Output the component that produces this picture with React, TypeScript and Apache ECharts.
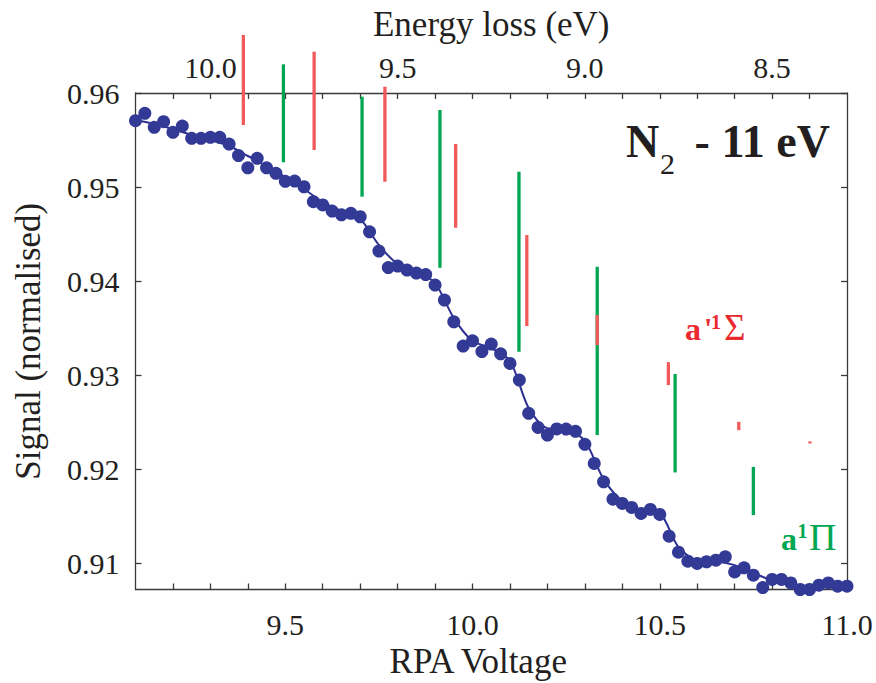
import React, { useEffect, useRef } from "react";
import * as echarts from "echarts";

// RPA voltage of each measured point (V)
const voltage = [
  9.1, 9.125, 9.15, 9.175, 9.2, 9.225, 9.25, 9.275, 9.3, 9.325,
  9.35, 9.375, 9.4, 9.425, 9.45, 9.475, 9.5, 9.525, 9.55, 9.575,
  9.6, 9.625, 9.65, 9.675, 9.7, 9.725, 9.75, 9.775, 9.8, 9.825,
  9.85, 9.875, 9.9, 9.925, 9.95, 9.975, 10.0, 10.025, 10.05, 10.075,
  10.1, 10.125, 10.15, 10.175, 10.2, 10.225, 10.25, 10.275, 10.3, 10.325,
  10.35, 10.375, 10.4, 10.425, 10.45, 10.475, 10.5, 10.525, 10.55, 10.575,
  10.6, 10.625, 10.65, 10.675, 10.7, 10.725, 10.75, 10.775, 10.8, 10.825,
  10.85, 10.875, 10.9, 10.925, 10.95, 10.975, 11.0,
];
// normalised signal of each measured point
const signal = [
  0.95705, 0.95784, 0.95635, 0.95695, 0.95582, 0.95649, 0.95518, 0.95518, 0.95529, 0.95529,
  0.95457, 0.95335, 0.95205, 0.95305, 0.95205, 0.95146, 0.95061, 0.95064, 0.95003, 0.94844,
  0.94809, 0.94745, 0.94705, 0.9472, 0.94684, 0.94524, 0.94319, 0.94144, 0.9416, 0.94117,
  0.94085, 0.94069, 0.93957, 0.93798, 0.93567, 0.93309, 0.93365, 0.9325, 0.9333, 0.93227,
  0.93124, 0.92947, 0.92593, 0.92444, 0.92362, 0.92428, 0.92426, 0.92402, 0.92264, 0.92061,
  0.91865, 0.91681, 0.91635, 0.91593, 0.91529, 0.91571, 0.91518, 0.91287, 0.91117, 0.91021,
  0.90997, 0.91014, 0.91032, 0.91067, 0.90907, 0.9095, 0.90872, 0.90741, 0.90827, 0.90827,
  0.9079, 0.9072, 0.9072, 0.90766, 0.9079, 0.90755, 0.90755,
];
// smoothed fit curve
const fitVoltage = [
  9.1, 9.15, 9.2, 9.25, 9.3, 9.35, 9.4, 9.45, 9.5, 9.55,
  9.6, 9.65, 9.7, 9.75, 9.8, 9.85, 9.9, 9.95, 10.0, 10.05,
  10.1, 10.15, 10.2, 10.25, 10.3, 10.35, 10.4, 10.45, 10.5, 10.55,
  10.6, 10.65, 10.7, 10.75, 10.8, 10.85, 10.9, 10.95, 11.0,
];
const fitSignal = [
  0.95713, 0.9567, 0.95617, 0.95553, 0.955, 0.95436, 0.9533, 0.95223, 0.95106, 0.94979,
  0.9484, 0.94745, 0.9466, 0.94383, 0.94181, 0.94106, 0.93979, 0.93606, 0.93362, 0.93287,
  0.93149, 0.92649, 0.92436, 0.92426, 0.92298, 0.91894, 0.9166, 0.91564, 0.91532, 0.9117,
  0.91032, 0.91021, 0.90979, 0.90894, 0.90819, 0.90777, 0.90745, 0.90755, 0.90755,
];
// a1Π progression sticks (green)
const piX = [9.495, 9.705, 9.913, 10.124, 10.333, 10.541, 10.75];
const piTop = [0.96305, 0.95961, 0.95819, 0.95163, 0.94152, 0.93011, 0.92024];
const piBottom = [0.95263, 0.94897, 0.94141, 0.93248, 0.92362, 0.91965, 0.91511];
// a'1Σ progression sticks (red)
const sigmaX = [9.388, 9.577, 9.766, 9.955, 10.145, 10.333, 10.523, 10.711, 10.901];
const sigmaTop = [0.96617, 0.96439, 0.96067, 0.95457, 0.94489, 0.93638, 0.93138, 0.92503, 0.92295];
const sigmaBottom = [0.9566, 0.95394, 0.95056, 0.94567, 0.93521, 0.93319, 0.92894, 0.92415, 0.92273];

// axes
const xMin = 9.1;
const xMax = 11.0;
const yMin = 0.9072;
const yMax = 0.96;
const xTickValues = [
  9.2, 9.3, 9.4, 9.5, 9.6, 9.7, 9.8, 9.9, 10.0, 10.1,
  10.2, 10.3, 10.4, 10.5, 10.6, 10.7, 10.8, 10.9,
];
const bottomLabels = [9.5, 10.0, 10.5, 11.0];
const energyLossLabels = [10.0, 9.5, 9.0, 8.5];
const energySum = 19.3; // energy loss = 19.3 - RPA voltage
const yTickValues = [0.91, 0.92, 0.93, 0.94, 0.95, 0.96];

const FONT = "'Liberation Serif', 'Times New Roman', serif";
const INK = "#231f20";
const AXIS = "#3a3a3a";
const RED = "#f05a5a";
const RED_TEXT = "#ea2a2f";
const GREEN = "#00a651";
const NAVY = "#2e3192";

function txt(text: string, x: number, y: number, size: number, weight: string, color: string, align = "left") {
  return {
    type: "text",
    x,
    y,
    silent: true,
    z: 10,
    style: {
      text,
      fontSize: size,
      fontWeight: weight,
      fontFamily: FONT,
      fill: color,
      align,
      verticalAlign: "middle",
      textAlign: align,
      textVerticalAlign: "middle",
    },
  };
}

function stickSeries(xs: number[], tops: number[], bottoms: number[], color: string, z: number) {
  return {
    type: "custom",
    xAxisIndex: 0,
    yAxisIndex: 0,
    clip: false,
    z,
    silent: true,
    encode: { x: 0, y: [1, 2] },
    data: xs.map((x, i) => [x, tops[i], bottoms[i]]),
    renderItem: (params: any, api: any) => {
      const p1 = api.coord([api.value(0), api.value(1)]);
      const p2 = api.coord([api.value(0), api.value(2)]);
      return {
        type: "line",
        shape: { x1: p1[0], y1: p1[1], x2: p2[0], y2: p2[1] },
        style: { stroke: color, lineWidth: 3.3 },
      };
    },
  };
}

export default function App() {
  const ref = useRef<HTMLDivElement>(null);

  useEffect(() => {
    if (!ref.current) return;
    const chart = echarts.init(ref.current, null, { renderer: "svg" });
    const axisLine = { show: true, onZero: false, lineStyle: { color: AXIS, width: 1.3 } };
    const labelStyle = { fontSize: 30, fontFamily: FONT, color: INK };
    const nameStyle = { fontSize: 35, fontFamily: FONT, color: INK };
    const topVoltages = energyLossLabels.map((e) => +(energySum - e).toFixed(3));

    chart.setOption({
      animation: false,
      backgroundColor: "#ffffff",
      grid: { left: 135.5, right: 29, top: 93, bottom: 93.5, outerBoundsMode: "none" },
      xAxis: [
        {
          type: "value",
          position: "bottom",
          min: xMin,
          max: xMax,
          axisLine,
          axisTick: { show: true, inside: true, length: 6, customValues: xTickValues, lineStyle: { color: AXIS, width: 1.3 } },
          axisLabel: { ...labelStyle, margin: 20, customValues: bottomLabels, formatter: (v: number) => v.toFixed(1) },
          splitLine: { show: false },
          name: "RPA Voltage",
          nameLocation: "middle",
          nameGap: 54,
          nameTextStyle: { ...nameStyle, padding: [0, 26, 0, 0] },
        },
        {
          type: "value",
          position: "top",
          min: xMin,
          max: xMax,
          axisLine,
          axisTick: { show: true, inside: true, length: 6, customValues: xTickValues, lineStyle: { color: AXIS, width: 1.3 } },
          axisLabel: { ...labelStyle, margin: 11, customValues: topVoltages, formatter: (v: number) => (energySum - v).toFixed(1) },
          splitLine: { show: false },
          name: "Energy loss (eV)",
          nameLocation: "middle",
          nameGap: 51,
          nameTextStyle: nameStyle,
        },
      ],
      yAxis: [
        {
          type: "value",
          position: "left",
          min: yMin,
          max: yMax,
          axisLine,
          axisTick: { show: true, inside: true, length: 6, customValues: yTickValues, lineStyle: { color: AXIS, width: 1.3 } },
          axisLabel: { ...labelStyle, margin: 16, customValues: yTickValues, formatter: (v: number) => v.toFixed(2) },
          splitLine: { show: false },
          name: "Signal (normalised)",
          nameLocation: "middle",
          nameGap: 90,
          nameTextStyle: nameStyle,
        },
        {
          type: "value",
          position: "right",
          min: yMin,
          max: yMax,
          axisLine,
          axisTick: { show: true, inside: true, length: 6, customValues: yTickValues, lineStyle: { color: AXIS, width: 1.3 } },
          axisLabel: { show: false },
          splitLine: { show: false },
        },
      ],
      series: [
        stickSeries(piX, piTop, piBottom, GREEN, 1),
        stickSeries(sigmaX, sigmaTop, sigmaBottom, RED, 2),
        {
          type: "line",
          xAxisIndex: 0,
          yAxisIndex: 0,
          data: fitVoltage.map((v, i) => [v, fitSignal[i]]),
          smooth: 0.3,
          showSymbol: false,
          symbol: "none",
          lineStyle: { color: NAVY, width: 2 },
          z: 3,
          silent: true,
        },
        {
          type: "scatter",
          xAxisIndex: 0,
          yAxisIndex: 0,
          data: voltage.map((v, i) => [v, signal[i]]),
          symbolSize: 13,
          itemStyle: { color: "#323a96", opacity: 1 },
          clip: false,
          z: 4,
          silent: true,
        },
      ],
      graphic: [
        txt("N", 626, 141, 46, "bold", INK),
        txt("2", 660, 163, 30, "normal", INK),
        txt("- 11 eV", 830, 141, 46, "bold", INK, "right"),
        txt("a", 685, 328.5, 32, "bold", RED_TEXT),
        txt("'", 704, 327, 30, "bold", RED_TEXT),
        txt("1", 711, 321.5, 20, "bold", RED_TEXT),
        txt("Σ", 724, 327, 37, "normal", RED_TEXT),
        txt("a", 781, 538.5, 32, "bold", GREEN),
        txt("1", 797.5, 530.5, 20, "bold", GREEN),
        txt("Π", 809, 537, 38, "normal", GREEN),
      ],
    });
    return () => chart.dispose();
  }, []);

  return (
    <div
      ref={ref}
      style={{ position: "absolute", left: 0, top: 0, width: 876, height: 683, background: "#fff" }}
    />
  );
}
